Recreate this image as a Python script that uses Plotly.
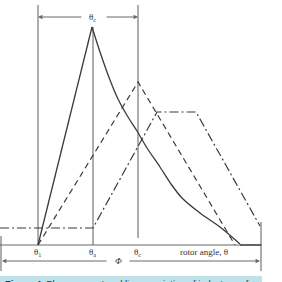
import plotly.graph_objects as go

# Data coordinates: x = rotor angle position (px-like units), y = height above baseline
BASE = 245  # baseline reference for converting read values

# Phase current (solid): rising edge and decaying tail
cur_rise_x = [38, 92]
cur_rise_py = [245, 27]
cur_fall_x = [92, 100, 110, 118, 128, 137, 147, 160, 171, 182, 200, 220, 240]
cur_fall_py = [27, 52, 80, 99, 117, 131, 148, 167, 184, 198, 213, 227, 244]
cur_flat_x = [240, 261]
cur_flat_py = [245, 245]

# Inductance (dashed)
ind1_x = [38, 138, 235]
ind1_py = [245, 82, 245]

# Inductance (dash-dot)
ind2_x = [0, 93, 157, 196, 260]
ind2_py = [228, 228, 112, 112, 226]

# Tick labels on the angle axis
tick_x = [37, 92, 137]
tick_text = ["θ<sub>1</sub>", "θ<sub>a</sub>", "θ<sub>c</sub>"]

def Y(vals):
    return [BASE - v for v in vals]

fig = go.Figure()
LC = "#3a3a3a"
GC = "#6a6a6a"

# baseline
fig.add_trace(go.Scatter(x=[0, 262], y=Y([245, 245]), mode="lines",
                         line=dict(color=GC, width=1.1), hoverinfo="skip"))
# vertical reference lines
for vx, top, bot in [(38, 5, 245), (93, 27, 245), (138, 5, 238),
                     (1, 236, 271), (261, 222, 271)]:
    fig.add_trace(go.Scatter(x=[vx, vx], y=Y([top, bot]), mode="lines",
                             line=dict(color=GC, width=1.1), hoverinfo="skip"))

fig.add_trace(go.Scatter(x=cur_rise_x, y=Y(cur_rise_py), mode="lines",
                         line=dict(color=LC, width=1.3), hoverinfo="skip"))
fig.add_trace(go.Scatter(x=cur_fall_x, y=Y(cur_fall_py), mode="lines",
                         line=dict(color=LC, width=1.3, shape="spline", smoothing=0.8),
                         hoverinfo="skip"))
fig.add_trace(go.Scatter(x=cur_flat_x, y=Y(cur_flat_py), mode="lines",
                         line=dict(color=LC, width=1.3), hoverinfo="skip"))
fig.add_trace(go.Scatter(x=ind1_x, y=Y(ind1_py), mode="lines",
                         line=dict(color=LC, width=1.2, dash="6px,4px"), hoverinfo="skip"))
fig.add_trace(go.Scatter(x=ind2_x, y=Y(ind2_py), mode="lines",
                         line=dict(color=LC, width=1.2, dash="9px,3px,2px,3px"), hoverinfo="skip"))

anns = []
def arrow(x0, x1, py):
    anns.append(dict(x=x1, y=BASE - py, ax=x0, ay=BASE - py, axref="x", ayref="y",
                     xref="x", yref="y", text="", showarrow=True, arrowhead=2,
                     arrowsize=0.8, arrowwidth=1.1, arrowcolor=GC))

arrow(83, 38, 17)
arrow(105, 138, 17)
arrow(108, 2, 261)
arrow(128, 260, 261)

font_serif = dict(family="Liberation Serif, DejaVu Serif, serif", size=9, color="#333")
anns.append(dict(x=92, y=BASE - 17, text="θ<sub>c</sub>", showarrow=False, font=font_serif))
anns.append(dict(x=118, y=BASE - 261, text="<i>Φ</i>", showarrow=False, font=font_serif))
for tx, tt in zip(tick_x, tick_text):
    anns.append(dict(x=tx, y=BASE - 252, text=tt, showarrow=False, font=font_serif))
anns.append(dict(x=204, y=BASE - 252, text="rotor angle, θ", showarrow=False, font=font_serif))

# caption band (cut off at bottom, as in the reference)
anns.append(dict(x=3, y=BASE - 276.5, xanchor="left", yanchor="top",
                 text="<b>Figure 4.</b> Phase current and linear variation of inductance for",
                 showarrow=False,
                 font=dict(family="Liberation Sans, Arial, sans-serif", size=9.3, color="#2a3a4a")))

fig.update_layout(
    width=282, height=282, margin=dict(l=0, r=0, t=0, b=0),
    paper_bgcolor="white", plot_bgcolor="white", showlegend=False,
    xaxis=dict(range=[0, 282], visible=False, fixedrange=True),
    yaxis=dict(range=[BASE - 282, BASE], visible=False, fixedrange=True),
    annotations=anns,
    shapes=[dict(type="rect", xref="x", yref="y", x0=0, x1=262, y0=BASE - 276, y1=BASE - 290,
                 fillcolor="#bfe1ea", line=dict(width=0), layer="below")],
)

fig.write_html("out.html")
